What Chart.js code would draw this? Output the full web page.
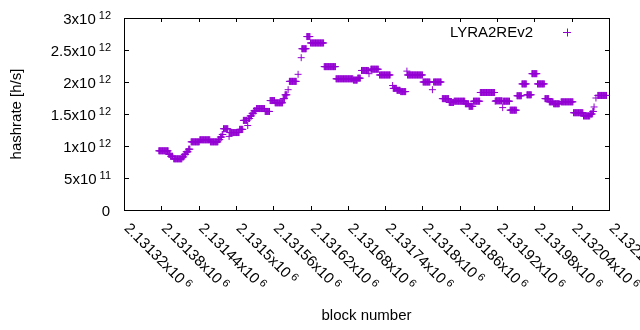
<!DOCTYPE html>
<html lang="en">
<head>
  <meta charset="UTF-8" />
  <title>LYRA2REv2 hashrate</title>
  <script src="https://cdn.jsdelivr.net/npm/chart.js"></script>
  <style>
    body { margin: 0; background: #fff; }
    canvas { display: block; }
  </style>
</head>
<body>
  <canvas id="hashChart" width="640" height="330"></canvas>

  <script>
    // runs of constant hashrate (block from..to, value in 1e12 h/s)
    const runStart = [
      2131376, 2131392, 2131395, 2131400, 2131414, 2131417, 2131420, 2131424, 2131428, 2131442,
      2131459, 2131472, 2131475, 2131478, 2131480, 2131489, 2131490, 2131506, 2131512, 2131519,
      2131520, 2131523, 2131526, 2131529, 2131533, 2131547, 2131555, 2131563, 2131576, 2131579,
      2131584, 2131586, 2131600, 2131605, 2131606, 2131614, 2131620, 2131642, 2131661, 2131689,
      2131696, 2131702, 2131714, 2131717, 2131731, 2131752, 2131753, 2131759, 2131765, 2131775,
      2131776, 2131801, 2131816, 2131818, 2131832, 2131843, 2131851, 2131869, 2131875, 2131882,
      2131893, 2131917, 2131918, 2131929, 2131930, 2131941, 2131952, 2131960, 2131968, 2131976,
      2131985, 2131997, 2132004, 2132011, 2132023, 2132043, 2132059, 2132070, 2132074, 2132076,
      2132079, 2132082
    ];
    const runEnd = [
      2131391, 2131394, 2131398, 2131413, 2131416, 2131419, 2131423, 2131426, 2131441, 2131458,
      2131471, 2131474, 2131477, 2131479, 2131487, 2131489, 2131505, 2131511, 2131518, 2131519,
      2131522, 2131525, 2131528, 2131532, 2131546, 2131554, 2131562, 2131575, 2131578, 2131582,
      2131584, 2131597, 2131600, 2131605, 2131613, 2131619, 2131641, 2131660, 2131688, 2131695,
      2131700, 2131713, 2131714, 2131729, 2131748, 2131752, 2131758, 2131764, 2131773, 2131775,
      2131800, 2131812, 2131816, 2131830, 2131842, 2131850, 2131868, 2131874, 2131881, 2131892,
      2131916, 2131917, 2131928, 2131929, 2131940, 2131951, 2131959, 2131967, 2131975, 2131984,
      2131996, 2132003, 2132010, 2132020, 2132042, 2132058, 2132069, 2132073, 2132075, 2132076,
      2132079, 2132096
    ];
    const runValue = [
      0.925, 0.87, 0.84, 0.80, 0.83, 0.87, 0.91, 0.95, 1.065, 1.097,
      1.065, 1.10, 1.14, 1.18, 1.27, 1.15, 1.21, 1.26, 1.40, 1.32,
      1.43, 1.47, 1.51, 1.55, 1.585, 1.54, 1.71, 1.675, 1.74, 1.80,
      1.88, 2.01, 2.12, 2.38, 2.52, 2.71, 2.61, 2.24, 2.05, 2.03,
      2.06, 2.18, 2.13, 2.20, 2.11, 1.945, 1.90, 1.87, 1.85, 2.17,
      2.11, 2.00, 1.88, 2.00, 1.74, 1.68, 1.70, 1.66, 1.62, 1.70,
      1.836, 1.70, 1.706, 1.60, 1.70, 1.56, 1.785, 1.97, 1.80, 2.13,
      1.97, 1.74, 1.69, 1.66, 1.69, 1.52, 1.47, 1.50, 1.54, 1.61,
      1.75, 1.79
    ];

    const xTicks = [2131320, 2131380, 2131440, 2131500, 2131560, 2131620, 2131680,
                    2131740, 2131800, 2131860, 2131920, 2131980, 2132040, 2132100];
    const yTicks = [0, 5e11, 1e12, 1.5e12, 2e12, 2.5e12, 3e12];

    const seriesName = 'LYRA2REv2';
    const purple = '#9400d3';
    const fontMain = '15px "Liberation Sans", Arial, sans-serif';
    const fontSup = '11px "Liberation Sans", Arial, sans-serif';

    // one point per block
    const points = [];
    for (let i = 0; i < runStart.length; i++) {
      for (let b = runStart[i]; b <= runEnd[i]; b++) {
        points.push({ x: b, y: runValue[i] * 1e12 });
      }
    }

    function sciParts(v) {
      if (v === 0) return ['0', ''];
      const e = Math.floor(Math.log10(v) + 1e-9);
      const m = parseFloat((v / Math.pow(10, e)).toPrecision(6));
      return [m + 'x10', String(e)];
    }

    const gnuplotLook = {
      id: 'gnuplotLook',
      afterDraw(chart) {
        const ctx = chart.ctx;
        const a = chart.chartArea;
        const xs = chart.scales.x, ys = chart.scales.y;
        ctx.save();
        ctx.strokeStyle = '#000';
        ctx.lineWidth = 1;

        // border
        ctx.strokeRect(Math.round(a.left) + 0.5, Math.round(a.top) + 0.5,
                       Math.round(a.right - a.left), Math.round(a.bottom - a.top));

        // ticks (inward, mirrored)
        ctx.beginPath();
        yTicks.forEach(v => {
          const y = Math.round(ys.getPixelForValue(v)) + 0.5;
          ctx.moveTo(a.left, y); ctx.lineTo(a.left + 5, y);
          ctx.moveTo(a.right, y); ctx.lineTo(a.right - 4, y);
        });
        xTicks.forEach(v => {
          const x = Math.round(xs.getPixelForValue(v)) + 0.5;
          ctx.moveTo(x, a.bottom); ctx.lineTo(x, a.bottom - 4);
          ctx.moveTo(x, a.top); ctx.lineTo(x, a.top + 4);
        });
        ctx.stroke();

        ctx.fillStyle = '#000';

        // y tick labels, right aligned
        yTicks.forEach(v => {
          const y = ys.getPixelForValue(v);
          const [main, sup] = sciParts(v);
          const right = 111;
          ctx.textBaseline = 'alphabetic';
          ctx.textAlign = 'right';
          if (!sup) {
            ctx.font = fontMain;
            ctx.fillText(main, right - 1, y + 5.5);
            return;
          }
          ctx.font = fontSup;
          const sw = ctx.measureText(sup).width;
          ctx.fillText(sup, right, y + 1);
          ctx.font = fontMain;
          ctx.fillText(main, right - sw - 3, y + 5.5);
        });

        // x tick labels, rotated by -45 (gnuplot style)
        xTicks.forEach(v => {
          const x = xs.getPixelForValue(v);
          const [main, sup] = sciParts(v);
          ctx.save();
          ctx.translate(x - 0.5, a.bottom + 19);
          ctx.rotate(Math.PI / 4);
          ctx.textAlign = 'left';
          ctx.textBaseline = 'alphabetic';
          ctx.font = fontMain;
          ctx.fillText(main, 0, 0);
          const mw = ctx.measureText(main).width;
          ctx.font = fontSup;
          ctx.fillText(sup, mw + 3, -4.5);
          ctx.restore();
        });

        // axis titles
        ctx.font = fontMain;
        ctx.textAlign = 'center';
        ctx.textBaseline = 'middle';
        ctx.fillText('block number', (a.left + a.right) / 2, 316);
        ctx.save();
        ctx.translate(17, (a.top + a.bottom) / 2);
        ctx.rotate(-Math.PI / 2);
        ctx.fillText('hashrate [h/s]', 0, 0);
        ctx.restore();

        // key
        ctx.textAlign = 'right';
        ctx.textBaseline = 'alphabetic';
        ctx.fillText(seriesName, 533, 37);
        ctx.strokeStyle = purple;
        ctx.beginPath();
        ctx.moveTo(563, 32.5); ctx.lineTo(571, 32.5);
        ctx.moveTo(567.5, 28.5); ctx.lineTo(567.5, 36.5);
        ctx.stroke();

        ctx.restore();
      }
    };

    new Chart(document.getElementById('hashChart'), {
      type: 'scatter',
      data: {
        datasets: [{
          label: seriesName,
          data: points,
          pointStyle: 'cross',
          pointRadius: 3.5,
          pointHoverRadius: 3.5,
          borderWidth: 1,
          borderColor: purple,
          backgroundColor: purple,
          showLine: false
        }]
      },
      options: {
        responsive: false,
        animation: false,
        events: [],
        layout: { padding: { left: 0, right: 31, top: 18, bottom: 0 } },
        plugins: { legend: { display: false }, tooltip: { enabled: false } },
        scales: {
          x: {
            type: 'linear',
            min: xTicks[0],
            max: xTicks[xTicks.length - 1],
            grid: { display: false },
            border: { display: false },
            ticks: { display: false },
            afterFit(scale) { scale.height = 120; }
          },
          y: {
            type: 'linear',
            min: yTicks[0],
            max: yTicks[yTicks.length - 1],
            grid: { display: false },
            border: { display: false },
            ticks: { display: false },
            afterFit(scale) { scale.width = 124; }
          }
        }
      },
      plugins: [gnuplotLook]
    });
  </script>
</body>
</html>
